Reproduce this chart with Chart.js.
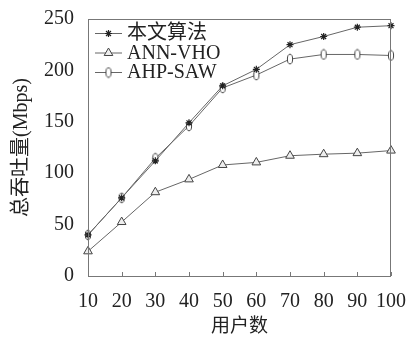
<!DOCTYPE html>
<html>
<head>
<meta charset="utf-8">
<script src="https://cdn.jsdelivr.net/npm/chart.js@4.4.1/dist/chart.umd.min.js"></script>
<style>
  html, body { margin: 0; padding: 0; background: #fff; }
  #wrap { width: 412px; height: 338px; }
</style>
</head>
<body>
<div id="wrap"><canvas id="chart" width="412" height="338"></canvas></div>
<script>
const users = ['10', '20', '30', '40', '50', '60', '70', '80', '90', '100'];
const proposed = [40, 76, 112, 149, 185, 201, 225, 233, 242, 243.5];
const annVho = [24, 52.5, 81.5, 94, 108, 110.5, 117, 118.5, 119.5, 122];
const ahpSaw = [40, 76, 114.5, 146, 183, 195.5, 211, 215.5, 215.5, 214.5];
const yTicks = [0, 50, 100, 150, 200, 250];

const FONT = '"Liberation Serif", "Noto Sans CJK SC", serif';
const LINE = '#666';
const INK = '#222';

// thin vertical ellipse marker like the reference
function ellipseMarker() {
    const c = document.createElement('canvas');
    c.width = 8; c.height = 12;
    const g = c.getContext('2d');
    g.fillStyle = '#fff';
    g.strokeStyle = '#444';
    g.lineWidth = 1;
    g.beginPath();
    g.ellipse(4, 6, 2.6, 4.8, 0, 0, Math.PI * 2);
    g.fill();
    g.stroke();
    return c;
}
const ellipse = ellipseMarker();

const frame = {
    id: 'frame',
    afterDatasetsDraw(chart) {
        const { ctx, chartArea: a, scales } = chart;
        ctx.save();
        ctx.strokeStyle = '#777';
        ctx.lineWidth = 1;
        ctx.strokeRect(a.left + 0.5, a.top + 0.5, a.right - a.left - 1, a.bottom - a.top);
        // inward ticks on the x axis
        ctx.beginPath();
        scales.x.ticks.forEach((t, i) => {
            const x = Math.round(scales.x.getPixelForTick(i)) + 0.5;
            ctx.moveTo(x, a.bottom);
            ctx.lineTo(x, a.bottom - 4);
        });
        ctx.stroke();

        // legend in the top-left corner
        const items = chart.data.datasets;
        ctx.font = '20px ' + FONT;
        ctx.textBaseline = 'middle';
        items.forEach((ds, i) => {
            const y = 33 + i * 19.5;
            ctx.strokeStyle = LINE;
            ctx.lineWidth = 1;
            ctx.beginPath();
            ctx.moveTo(95, y + 0.5);
            ctx.lineTo(122, y + 0.5);
            ctx.stroke();
            ctx.fillStyle = ds.pointBackgroundColor;
            ctx.strokeStyle = ds.pointBorderColor;
            ctx.lineWidth = ds.pointBorderWidth || 1;
            Chart.helpers.drawPoint(ctx, {
                pointStyle: ds.pointStyle,
                radius: ds.pointRadius,
                borderWidth: ds.pointBorderWidth || 1,
                rotation: 0
            }, 108.5, y + 0.5);
            ctx.fillStyle = INK;
            ctx.fillText(ds.label, 127, y + 1);
        });
        ctx.restore();
    }
};

new Chart(document.getElementById('chart'), {
    type: 'line',
    data: {
        labels: users,
        datasets: [
            {
                label: '本文算法', data: proposed,
                borderColor: LINE, borderWidth: 1,
                pointStyle: 'star', pointRadius: 3.5, pointBorderWidth: 1.2,
                pointBorderColor: INK, pointBackgroundColor: INK
            },
            {
                label: 'ANN-VHO', data: annVho,
                borderColor: LINE, borderWidth: 1,
                pointStyle: 'triangle', pointRadius: 5, pointBorderWidth: 1,
                pointBorderColor: '#444', pointBackgroundColor: '#eee'
            },
            {
                label: 'AHP-SAW', data: ahpSaw,
                borderColor: LINE, borderWidth: 1,
                pointStyle: ellipse, pointRadius: 5, pointBorderWidth: 1,
                pointBorderColor: '#444', pointBackgroundColor: '#fff'
            }
        ]
    },
    options: {
        responsive: false,
        animation: false,
        layout: { padding: { top: 19, right: 16, left: 10, bottom: 0 } },
        plugins: { legend: { display: false }, tooltip: { enabled: false } },
        scales: {
            x: {
                offset: false,
                grid: { display: false },
                border: { display: false },
                ticks: { color: INK, font: { family: FONT, size: 20 }, padding: 6, maxRotation: 0, autoSkip: false },
                title: { display: true, text: '用户数', color: INK, font: { family: FONT, size: 19 }, padding: { top: 4, bottom: 0 } },
                afterFit(s) { s.height = 62; }
            },
            y: {
                min: 0, max: 250,
                afterBuildTicks(s) { s.ticks = yTicks.map(v => ({ value: v })); },
                grid: { display: false },
                border: { display: false },
                ticks: { color: INK, font: { family: FONT, size: 20 }, padding: 6 },
                title: { display: true, text: '总吞吐量(Mbps)', color: INK, font: { family: FONT, size: 20 }, padding: { top: 0, bottom: 2 } },
                afterFit(s) { s.width = 78; }
            }
        }
    },
    plugins: [frame]
});
</script>
</body>
</html>
